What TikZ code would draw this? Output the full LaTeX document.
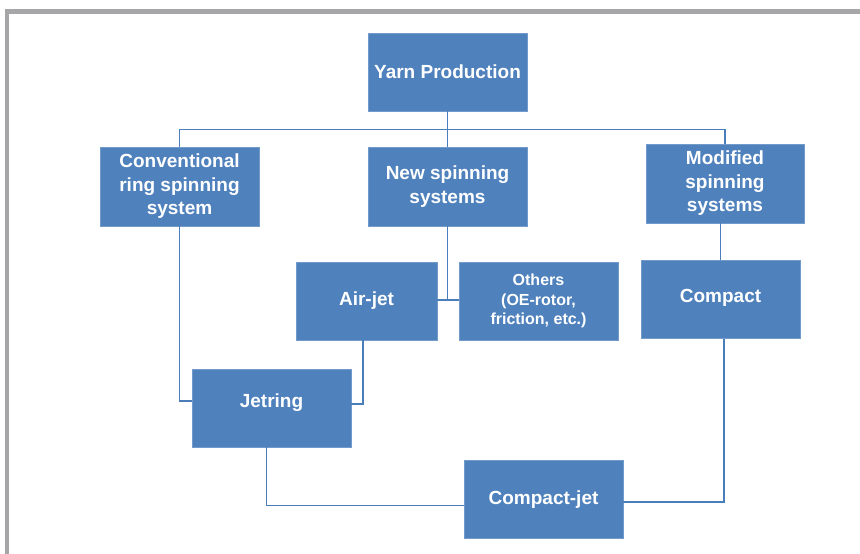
\documentclass[tikz,border=0pt]{standalone}
\usepackage{fontspec}
\setmainfont{Liberation Sans}
\usetikzlibrary{calc}
\definecolor{boxblue}{RGB}{79,129,189}
\definecolor{lineblue}{RGB}{74,126,187}
\definecolor{framegray}{RGB}{166,166,168}
\tikzset{every picture/.style={line width=0.75pt}}
\tikzset{
  unitbox/.style={fill=boxblue, draw=boxblue!80!white, line width=0.6pt, text=white, align=center, inner sep=0pt,
    minimum width=159, minimum height=78, font=\fontsize{19}{23.5}\selectfont\bfseries},
  link/.style={draw=lineblue, line width=1.5pt}
}
\begin{document}
\begin{tikzpicture}[x=1pt,y=1pt,yscale=-1,xscale=1]
\useasboundingbox (0,0) rectangle (860,554);
%Frame
\draw [color=framegray, line width=4.5pt]  (862,11.5) -- (6.8,11.5) -- (6.8,556) ;

%Shape: Rectangle
\node [unitbox] (yarn) at (447.5,72) {Yarn Production};
%Shape: Rectangle
\node [unitbox, minimum height=79] (conv) at (179.5,186.5) {Conventional\\ring spinning\\system};
%Shape: Rectangle
\node [unitbox, minimum height=79] (newsys) at (447.5,186.5) {New spinning\\systems};
%Shape: Rectangle
\node [unitbox, minimum width=158, minimum height=79] (modsys) at (725,183.5) {Modified\\spinning\\systems};
%Shape: Rectangle
\node [unitbox, minimum width=141] (airjet) at (366.5,301) {Air-jet};
%Shape: Rectangle
\node [unitbox, font=\fontsize{16}{19.5}\selectfont\bfseries] (others) at (538.5,301) {Others\\(OE-rotor,\\friction, etc.)};
%Shape: Rectangle
\node [unitbox, text depth=8] (compact) at (720.5,299.5) {Compact};
%Shape: Rectangle
\node [unitbox, text depth=14] (jetring) at (271.5,408) {Jetring};
%Shape: Rectangle
\node [unitbox, text depth=3] (cjet) at (543.5,499) {Compact-jet};

%Straight Lines
\draw [link]  (yarn.south) -- ++(0,18) coordinate (bus) ;
\draw [link]  (conv.north) |- (bus) -| (modsys.north) ;
\draw [link]  (bus) -- (newsys.north) ;
%Straight Lines
\draw [link]  (newsys.south) -- ($(newsys.south |- airjet.east)+(0,-1)$) ;
\draw [link]  ($(airjet.east)+(0,-1)$) -- ($(others.west)+(0,-1)$) ;
%Straight Lines
\draw [link]  (compact.north) -- (compact.north |- modsys.south) ;
%Straight Lines
\draw [link]  (conv.south) |- ($(jetring.west)+(0,-7)$) ;
\draw [link]  ($(airjet.south)+(-3.5,0)$) |- ($(jetring.east)+(0,-4)$) ;
%Straight Lines
\draw [link]  ($(jetring.south)+(-5,0)$) |- ($(cjet.west)+(0,6.5)$) ;
\draw [link]  ($(cjet.east)+(0,3)$) -| ($(compact.south)+(3.5,0)$) ;
\end{tikzpicture}
\end{document}
